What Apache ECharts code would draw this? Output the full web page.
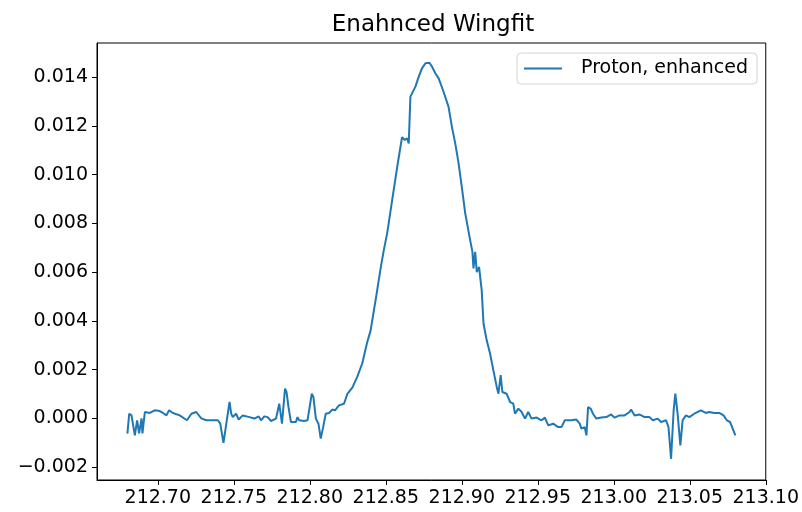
<!DOCTYPE html>
<html>
<head>
<meta charset="utf-8">
<script src="https://cdn.jsdelivr.net/npm/echarts@6/dist/echarts.min.js"></script>
<style>
  html, body { margin: 0; padding: 0; background: #fff; }
  #chart { width: 802px; height: 512px; }
</style>
</head>
<body>
<div id="chart"></div>
<script>
// Wing-fit profile: energy positions and intensities
const xValues = [
  212.6800, 212.6812, 212.6827, 212.6849, 212.6864, 212.6877, 212.6893, 212.6899, 212.6915, 212.6947,
  212.6980, 212.7013, 212.7034, 212.7057, 212.7074, 212.7100, 212.7144, 212.7192, 212.7221, 212.7253,
  212.7286, 212.7319, 212.7395, 212.7411, 212.7432, 212.7454, 212.7472, 212.7483, 212.7493, 212.7515,
  212.7532, 212.7559, 212.7603, 212.7635, 212.7664, 212.7679, 212.7701, 212.7723, 212.7745, 212.7778,
  212.7799, 212.7817, 212.7837, 212.7847, 212.7860, 212.7876, 212.7909, 212.7919, 212.7930, 212.7963,
  212.7985, 212.8013, 212.8024, 212.8040, 212.8057, 212.8072, 212.8088, 212.8105, 212.8127, 212.8148,
  212.8166, 212.8192, 212.8225, 212.8247, 212.8280, 212.8312, 212.8345, 212.8378, 212.8400, 212.8433,
  212.8466, 212.8487, 212.8509, 212.8542, 212.8574, 212.8607, 212.8625, 212.8640, 212.8651, 212.8662,
  212.8695, 212.8717, 212.8738, 212.8761, 212.8787, 212.8804, 212.8826, 212.8848, 212.8880, 212.8913,
  212.8935, 212.8957, 212.8979, 212.9000, 212.9023, 212.9055, 212.9070, 212.9077, 212.9088, 212.9099,
  212.9114, 212.9121, 212.9131, 212.9143, 212.9164, 212.9186, 212.9208, 212.9230, 212.9241, 212.9256,
  212.9267, 212.9295, 212.9318, 212.9339, 212.9350, 212.9372, 212.9394, 212.9416, 212.9437, 212.9459,
  212.9492, 212.9525, 212.9547, 212.9569, 212.9601, 212.9634, 212.9656, 212.9678, 212.9721, 212.9754,
  212.9776, 212.9787, 212.9809, 212.9820, 212.9831, 212.9848, 212.9863, 212.9885, 212.9918, 212.9951,
  212.9983, 213.0005, 213.0038, 213.0071, 213.0104, 213.0114, 213.0137, 213.0169, 213.0202, 213.0235,
  213.0257, 213.0289, 213.0311, 213.0344, 213.0360, 213.0377, 213.0394, 213.0405, 213.0420, 213.0438,
  213.0453, 213.0475, 213.0497, 213.0530, 213.0573, 213.0606, 213.0628, 213.0661, 213.0694, 213.0722,
  213.0744, 213.0765, 213.0800
];
const protonEnhanced = [
  -0.00063, 0.00019, 0.00012, -0.00070, -0.00008, -0.00062, 0.00000, -0.00062, 0.00026, 0.00022,
  0.00033, 0.00030, 0.00022, 0.00012, 0.00033, 0.00022, 0.00012, -0.00008, 0.00019, 0.00026,
  0.00000, -0.00008, -0.00008, -0.00022, -0.00101, -0.00008, 0.00067, 0.00019, 0.00005, 0.00019,
  -0.00005, 0.00012, 0.00005, -0.00001, 0.00008, -0.00008, 0.00008, 0.00005, -0.00011, -0.00001,
  0.00060, -0.00022, 0.00122, 0.00108, 0.00046, -0.00015, -0.00015, 0.00005, -0.00008, -0.00011,
  -0.00008, 0.00101, 0.00087, -0.00001, -0.00022, -0.00083, -0.00036, 0.00019, 0.00022, 0.00036,
  0.00033, 0.00053, 0.00060, 0.00100, 0.00126, 0.00170, 0.00225, 0.00313, 0.00360, 0.00485,
  0.00615, 0.00690, 0.00759, 0.00895, 0.01027, 0.01154, 0.01142, 0.01149, 0.01128, 0.01320,
  0.01361, 0.01402, 0.01436, 0.01457, 0.01459, 0.01443, 0.01416, 0.01395, 0.01340, 0.01278,
  0.01196, 0.01128, 0.01046, 0.00950, 0.00840, 0.00731, 0.00683, 0.00615, 0.00683, 0.00600,
  0.00621, 0.00580, 0.00526, 0.00389, 0.00320, 0.00266, 0.00197, 0.00129, 0.00101, 0.00177,
  0.00108, 0.00101, 0.00067, 0.00060, 0.00019, 0.00040, 0.00026, -0.00001, 0.00026, -0.00001,
  0.00003, -0.00008, 0.00003, -0.00029, -0.00022, -0.00036, -0.00036, -0.00008, -0.00008, -0.00005,
  -0.00022, -0.00042, -0.00036, -0.00070, 0.00046, 0.00040, 0.00019, -0.00001, 0.00003, 0.00005,
  0.00016, 0.00003, 0.00012, 0.00012, 0.00026, 0.00036, 0.00012, 0.00016, 0.00005, 0.00005,
  -0.00008, -0.00001, -0.00015, -0.00008, -0.00036, -0.00166, 0.00033, 0.00101, 0.00019, -0.00111,
  -0.00008, 0.00012, 0.00005, 0.00019, 0.00033, 0.00022, 0.00026, 0.00022, 0.00022, 0.00012,
  -0.00008, -0.00015, -0.00070
];

// Axis ticks
const xTicks = [212.70, 212.75, 212.80, 212.85, 212.90, 212.95, 213.00, 213.05, 213.10];
const yTicks = [-0.002, 0.000, 0.002, 0.004, 0.006, 0.008, 0.010, 0.012, 0.014];

const seriesName = 'Proton, enhanced';
const titleText = 'Enahnced Wingfit';

const FONT = '"DejaVu Sans", sans-serif';
const points = xValues.map((x, i) => [x, protonEnhanced[i]]);

const chart = echarts.init(document.getElementById('chart'), null, { renderer: 'canvas' });

chart.setOption({
  animation: false,
  backgroundColor: '#ffffff',
  title: {
    text: titleText,
    left: 428,
    textAlign: 'center',
    top: 9,
    textStyle: { fontFamily: FONT, fontSize: 23, fontWeight: 'normal', color: '#000' }
  },
  legend: {
    data: [seriesName],
    right: 45,
    top: 53,
    orient: 'vertical',
    icon: 'rect',
    itemWidth: 38,
    itemHeight: 2,
    itemGap: 0,
    padding: [6, 9, 6, 7],
    borderColor: '#d5d5d5',
    borderWidth: 1,
    borderRadius: 4,
    backgroundColor: 'rgba(255,255,255,0.8)',
    textStyle: { fontFamily: FONT, fontSize: 19, color: '#000', padding: [0, 0, 0, 14] }
  },
  grid: {
    left: 97, right: 34, top: 43, bottom: 32,
    show: true, borderColor: '#000', borderWidth: 1, backgroundColor: 'transparent'
  },
  xAxis: {
    type: 'value',
    min: 212.66,
    max: 213.10,
    axisLine: { show: true, onZero: false, lineStyle: { color: '#000', width: 1 } },
    axisTick: { show: true, length: 5, customValues: xTicks, lineStyle: { color: '#000', width: 1 } },
    axisLabel: {
      customValues: xTicks,
      margin: 9,
      fontFamily: FONT, fontSize: 19, color: '#000',
      formatter: v => v.toFixed(2)
    },
    splitLine: { show: false }
  },
  yAxis: {
    type: 'value',
    min: -0.00253,
    max: 0.0154,
    axisLine: { show: true, onZero: false, lineStyle: { color: '#000', width: 1 } },
    axisTick: { show: true, length: 5, customValues: yTicks, lineStyle: { color: '#000', width: 1 } },
    axisLabel: {
      customValues: yTicks,
      margin: 9,
      fontFamily: FONT, fontSize: 19, color: '#000',
      formatter: v => {
        const s = Math.abs(v).toFixed(3);
        return v < -1e-12 ? '\u2212' + s : s;
      }
    },
    splitLine: { show: false }
  },
  series: [{
    name: seriesName,
    type: 'line',
    data: points,
    showSymbol: false,
    symbol: 'none',
    lineStyle: { color: '#1f77b4', width: 2 },
    itemStyle: { color: '#1f77b4' }
  }]
});
</script>
</body>
</html>
